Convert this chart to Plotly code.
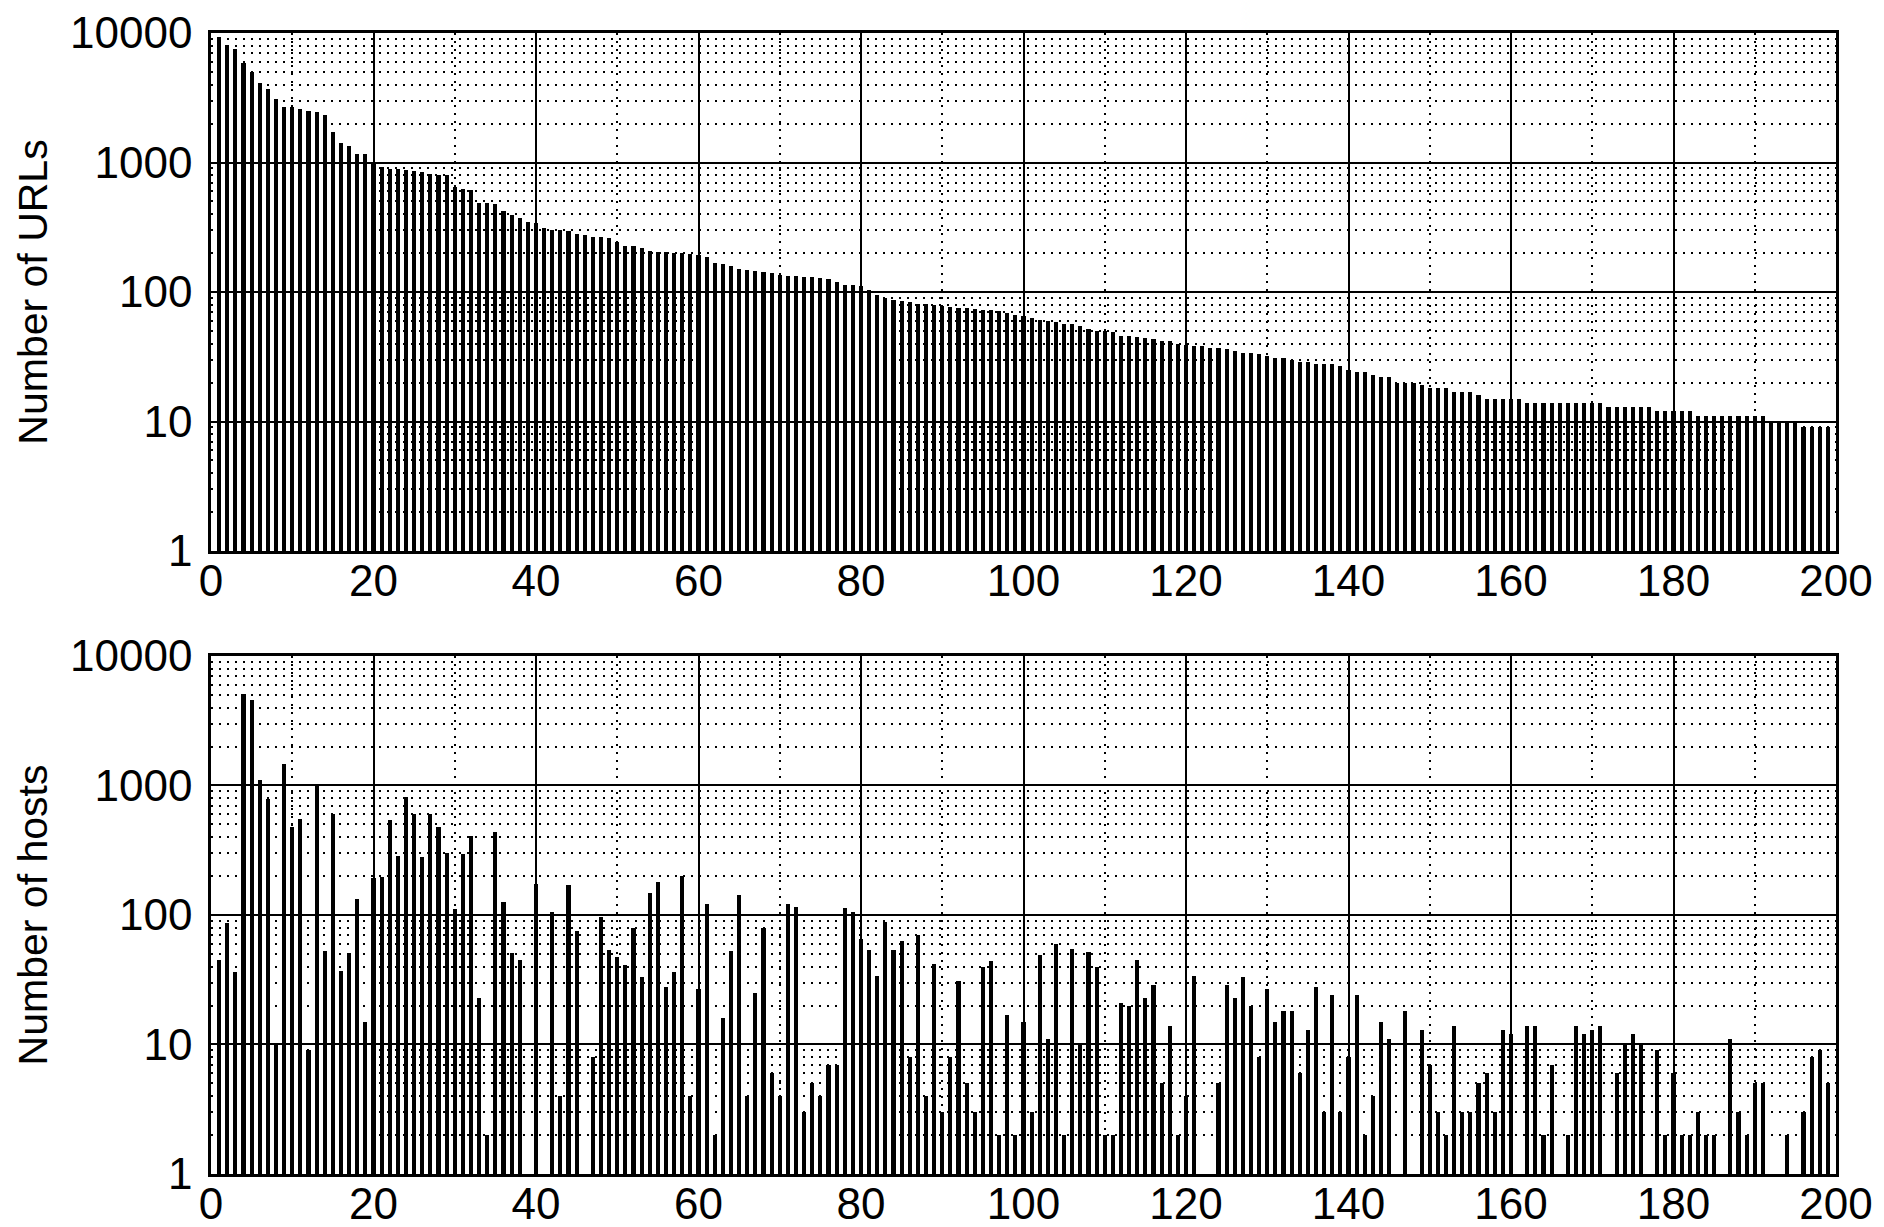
import plotly.graph_objects as go

# ---- data ----
ranks = list(range(1, 200))

urls = [
    9360, 8110, 7550, 5910, 5000, 4080, 3725, 3076, 2700, 2668,
    2590, 2483, 2440, 2324, 1734, 1406, 1349, 1169, 1163, 990,
    920, 898, 887, 871, 856, 846, 821, 796, 796, 646,
    627, 609, 491, 488, 479, 425, 394, 371, 345, 341,
    312, 301, 301, 297, 283, 277, 267, 265, 259, 244,
    226, 225, 220, 207, 204, 204, 201, 201, 198, 192,
    186, 168, 165, 158, 151, 148, 146, 142, 140, 136,
    134, 132, 130, 130, 129, 125, 119, 114, 113, 111,
    104, 94, 90, 87, 85, 83, 81, 81, 80, 78,
    76, 75, 75, 74, 73, 72, 71, 69, 67, 65,
    63, 61, 60, 59, 57, 57, 55, 52, 50, 50,
    49, 46, 46, 45, 44, 43, 42, 42, 40, 39,
    38, 38, 37, 37, 36, 35, 34, 34, 33, 32,
    31, 31, 30, 29, 29, 28, 28, 28, 27, 25,
    24, 24, 23, 22, 22, 20, 20, 20, 19, 18,
    18, 18, 17, 17, 17, 16, 15, 15, 15, 15,
    15, 14, 14, 14, 14, 14, 14, 14, 14, 14,
    14, 13, 13, 13, 13, 13, 13, 12, 12, 12,
    12, 12, 11, 11, 11, 11, 11, 11, 11, 11,
    11, 10, 10, 10, 10, 9, 9, 9, 9,
]

hosts = [
    45, 86, 36, 5060, 4600, 1107, 792, 10, 1475, 476,
    553, 9, 1030, 53, 601, 37, 51, 132, 15, 193,
    198, 540, 286, 821, 605, 281, 605, 476, 299, 112,
    294, 408, 23, 2, 435, 126, 51, 45, 0, 173,
    0, 105, 4, 169, 75, 0, 8, 96, 54, 47,
    41, 80, 33, 148, 180, 28, 36, 199, 4, 27,
    121, 2, 16, 53, 143, 4, 25, 79, 6, 4,
    122, 116, 3, 5, 4, 7, 7, 113, 105, 65,
    54, 34, 88, 54, 63, 8, 70, 4, 42, 3,
    8, 31, 5, 3, 40, 44, 2, 17, 2, 15,
    3, 49, 11, 60, 2, 55, 10, 52, 40, 2,
    2, 21, 20, 45, 23, 29, 5, 14, 2, 4,
    34, 0, 0, 5, 29, 23, 33, 20, 8, 27,
    15, 18, 18, 6, 13, 28, 3, 24, 3, 8,
    24, 2, 4, 15, 11, 0, 18, 0, 13, 7,
    3, 2, 14, 3, 3, 5, 6, 3, 13, 12,
    0, 14, 14, 2, 7, 0, 2, 14, 12, 13,
    14, 0, 6, 10, 12, 10, 0, 9, 2, 6,
    2, 2, 3, 2, 2, 0, 11, 3, 2, 5,
    5, 0, 0, 2, 0, 3, 8, 9, 5,
]

x_ticks = [0, 20, 40, 60, 80, 100, 120, 140, 160, 180, 200]
x_minor = [10, 30, 50, 70, 90, 110, 130, 150, 170, 190]
y_ticks = [1, 10, 100, 1000, 10000]
y_tick_text = ["1", "10", "100", "1000", "10000"]
y_minor = [m * d for d in (1, 10, 100, 1000) for m in range(2, 10)]

FONT = "Liberation Sans, Arial, Helvetica, sans-serif"
TICK_SIZE = 44
TITLE_SIZE = 41


def clean(vals):
    return [v if v > 0 else None for v in vals]


fig = go.Figure()
fig.add_trace(go.Bar(x=ranks, y=urls, width=0.52, marker=dict(color="black", line=dict(width=0)),
                     xaxis="x", yaxis="y", showlegend=False, hoverinfo="skip"))
fig.add_trace(go.Bar(x=ranks, y=clean(hosts), width=0.52, marker=dict(color="black", line=dict(width=0)),
                     xaxis="x2", yaxis="y2", showlegend=False, hoverinfo="skip"))

DOT = "2px,6px"


def xaxis_cfg(anchor):
    return dict(
        anchor=anchor, range=[0, 200], tickmode="array", tickvals=x_ticks,
        ticks="", ticklabelstandoff=-11, automargin=False,
        tickfont=dict(family=FONT, size=TICK_SIZE, color="black"),
        showline=True, mirror=True, linecolor="black", linewidth=2.5,
        showgrid=True, gridcolor="black", gridwidth=1.5, zeroline=False,
        minor=dict(tickmode="array", tickvals=x_minor, showgrid=True,
                   gridcolor="black", gridwidth=2, griddash=DOT, ticks=""),
    )


def yaxis_cfg(anchor, domain, title):
    return dict(
        anchor=anchor, domain=domain, type="log", range=[0, 4],
        tickmode="array", tickvals=y_ticks, ticktext=y_tick_text,
        ticks="", ticklabelstandoff=7, automargin=False,
        tickfont=dict(family=FONT, size=TICK_SIZE, color="black"),
        showline=True, mirror=True, linecolor="black", linewidth=2.5,
        showgrid=True, gridcolor="black", gridwidth=1.5, zeroline=False,
        minor=dict(tickmode="array", tickvals=y_minor, showgrid=True,
                   gridcolor="black", gridwidth=2, griddash=DOT, ticks=""),
        title=dict(text=title, font=dict(family=FONT, size=TITLE_SIZE, color="black"), standoff=10),
    )


fig.update_layout(
    width=1884, height=1227,
    margin=dict(l=211, r=48, t=33, b=53),
    paper_bgcolor="white", plot_bgcolor="white",
    bargap=0,
    xaxis=xaxis_cfg("y"),
    yaxis=yaxis_cfg("x", [0.546, 1.0], "Number of URLs"),
    xaxis2=xaxis_cfg("y2"),
    yaxis2=yaxis_cfg("x2", [0.0, 0.454], "Number of hosts"),
)

fig.write_html(
    "out.html",
    config={"displayModeBar": False},
    post_script="document.body.style.margin='0';document.body.style.overflow='hidden';",
)
